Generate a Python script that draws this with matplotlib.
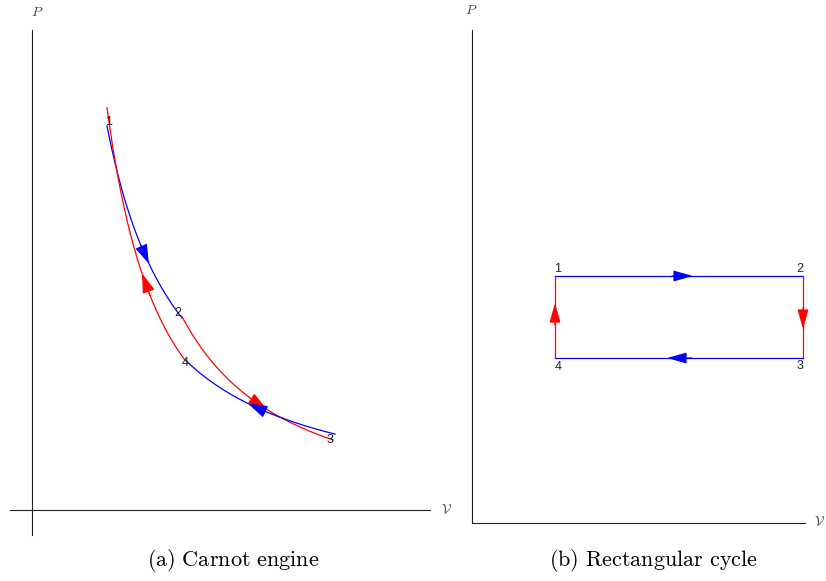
import numpy as np
import matplotlib
matplotlib.use("Agg")
import matplotlib.pyplot as plt

plt.rcParams['mathtext.fontset'] = 'cm'

# Carnot engine: curves P = k / V**g
hot_iso = (2.88, 1.0)      # 1 -> 2
adiab_23 = (3.49, 1.457)   # 2 -> 3
cold_iso = (2.30, 1.0)     # 3 -> 4
adiab_41 = (2.70, 1.386)   # 4 -> 1
V1, V2, V3, V4 = 0.75, 1.50, 3.03, 1.53
carnot_labels = ['1', '2', '3', '4']
carnot_label_pos = [(0.77, 3.88), (1.46, 1.97), (2.98, 0.70), (1.53, 1.47)]

# rectangular cycle
rect_V = [0.83, 3.31]
rect_P = [1.65, 2.47]
rect_labels = ['1', '2', '3', '4']
rect_label_pos = [(0.86, 2.54), (3.28, 2.54), (3.28, 1.57), (0.86, 1.56)]

captions = [r'$\mathrm{(a)\ Carnot\ engine}$', r'$\mathrm{(b)\ Rectangular\ cycle}$']


def pressure(curve, v):
    k, g = curve
    return k / np.power(v, g)


def arrow_on_curve(ax, curve, v_tip, dv, color):
    ax.annotate('', xy=(v_tip, pressure(curve, v_tip)),
                xytext=(v_tip - dv, pressure(curve, v_tip - dv)),
                arrowprops=dict(arrowstyle='-|>,head_length=1.0,head_width=0.32',
                                color=color, lw=0.9, shrinkA=0, shrinkB=0,
                                mutation_scale=12))


def arrow_straight(ax, start, end, color):
    ax.annotate('', xy=end, xytext=start,
                arrowprops=dict(arrowstyle='-|>,head_length=1.0,head_width=0.28',
                                color=color, lw=0.9, shrinkA=0, shrinkB=0,
                                mutation_scale=12))


fig = plt.figure(figsize=(8.26, 5.81), dpi=100)

# ---- (a) Carnot engine ----
ax = fig.add_axes([0, 0, 0.5, 1])
ax.set_xlim(-0.32, 3.81)
ax.set_ylim(-0.71, 5.10)
ax.axis('off')

ax.plot([0, 0], [-0.25, 4.80], color='#222222', lw=0.8, clip_on=False)
ax.plot([-0.22, 3.98], [0, 0], color='#222222', lw=0.8, clip_on=False)
ax.text(0.05, 4.98, '$P$', fontsize=10, ha='center', va='center', color='#444444')
ax.text(4.15, 0.0, r'$\mathcal{V}$', fontsize=10, ha='center', va='center',
        color='#444444', clip_on=False)

v = np.linspace(V1, V2, 200)
ax.plot(v, pressure(hot_iso, v), color='blue', lw=0.9)
v = np.linspace(V2, 3.01, 200)
ax.plot(v, pressure(adiab_23, v), color='red', lw=0.9)
v = np.linspace(V4, V3, 200)
ax.plot(v, pressure(cold_iso, v), color='blue', lw=0.9)
v = np.linspace(V1, V4, 200)
ax.plot(v, pressure(adiab_41, v), color='red', lw=0.9)

arrow_on_curve(ax, hot_iso, 1.17, 0.08, 'blue')
arrow_on_curve(ax, adiab_41, 1.10, -0.08, 'red')
arrow_on_curve(ax, adiab_23, 2.35, 0.12, 'red')
arrow_on_curve(ax, cold_iso, 2.16, -0.12, 'blue')

for lab, (x, y) in zip(carnot_labels, carnot_label_pos):
    ax.text(x, y, lab, fontsize=9, ha='center', va='center',
            family='Liberation Sans', color='#222222')

fig.text(233 / 826, 1 - 561 / 581, captions[0], fontsize=16, ha='center', va='center')

# ---- (b) Rectangular cycle ----
ax = fig.add_axes([0.5, 0, 0.5, 1])
ax.set_xlim(-0.59, 3.54)
ax.set_ylim(-0.58, 5.23)
ax.axis('off')

ax.plot([0, 0], [0, 4.93], color='#222222', lw=0.8, clip_on=False)
ax.plot([0, 3.33], [0, 0], color='#222222', lw=0.8, clip_on=False)
ax.text(-0.01, 5.13, '$P$', fontsize=10, ha='center', va='center', color='#444444')
ax.text(3.48, 0.01, r'$\mathcal{V}$', fontsize=10, ha='center', va='center',
        color='#444444', clip_on=False)

va, vb = rect_V
pl, ph = rect_P
ax.plot([va, vb], [ph, ph], color='blue', lw=0.9)
ax.plot([vb, vb], [ph, pl], color='red', lw=0.9)
ax.plot([vb, va], [pl, pl], color='blue', lw=0.9)
ax.plot([va, va], [pl, ph], color='red', lw=0.9)

arrow_straight(ax, (2.0, ph), (2.21, ph), 'blue')
arrow_straight(ax, (vb, 2.15), (vb, 1.94), 'red')
arrow_straight(ax, (2.2, pl), (1.95, pl), 'blue')
arrow_straight(ax, (va, 1.98), (va, 2.20), 'red')

for lab, (x, y) in zip(rect_labels, rect_label_pos):
    ax.text(x, y, lab, fontsize=9, ha='center', va='center',
            family='Liberation Sans', color='#222222')

fig.text(653 / 826, 1 - 561 / 581, captions[1], fontsize=16, ha='center', va='center')

fig.savefig('out.png', dpi=100, facecolor='white')
